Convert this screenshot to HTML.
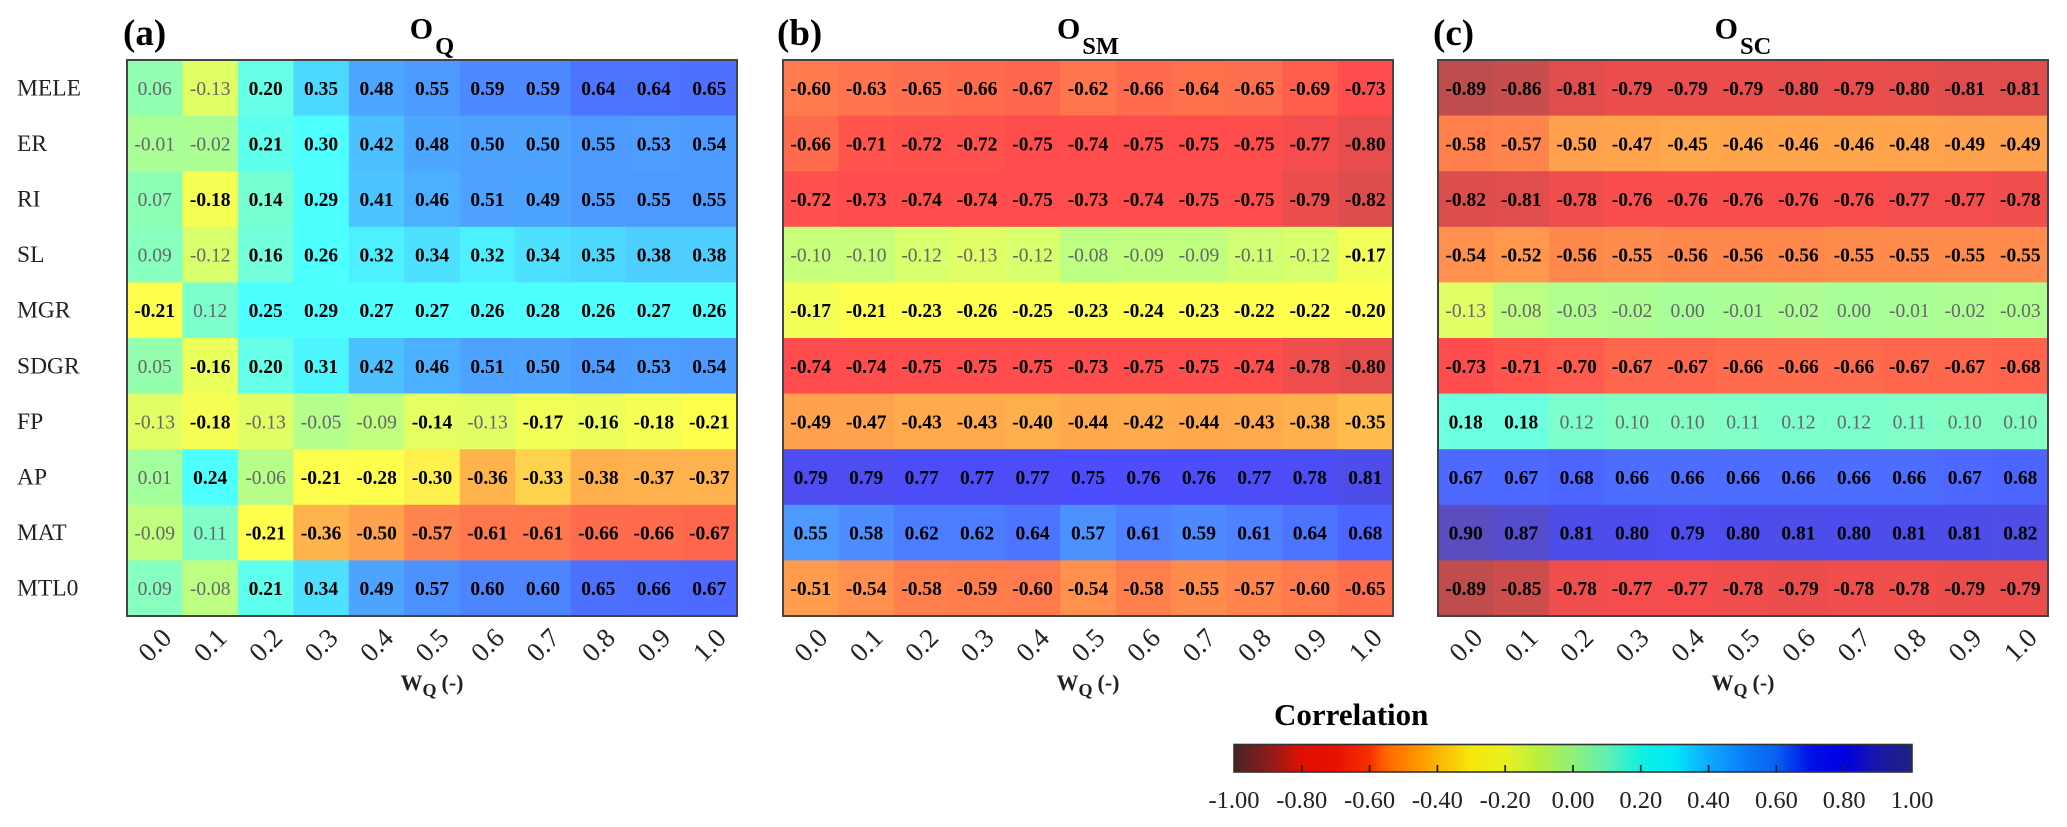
<!DOCTYPE html>
<html lang="en">
<head>
<meta charset="utf-8">
<title>Correlation heatmaps</title>
<style>
html,body{margin:0;padding:0;background:#fff;width:2067px;height:827px;overflow:hidden}
svg{display:block;font-family:"Liberation Serif",serif}
</style>
</head>
<body>
<svg id="chart" xmlns="http://www.w3.org/2000/svg" width="2067" height="827" viewBox="0 0 2067 827">
<defs>
<linearGradient id="cbar-gradient">
<stop offset="0" stop-color="#4a2424"/>
<stop offset="0.05" stop-color="#8a1c1c"/>
<stop offset="0.1" stop-color="#e01000"/>
<stop offset="0.15" stop-color="#e81000"/>
<stop offset="0.2" stop-color="#f53000"/>
<stop offset="0.225" stop-color="#ff6600"/>
<stop offset="0.275" stop-color="#ff9a00"/>
<stop offset="0.35" stop-color="#f5e80a"/>
<stop offset="0.4" stop-color="#e8f020"/>
<stop offset="0.45" stop-color="#b8f040"/>
<stop offset="0.5" stop-color="#90f07a"/>
<stop offset="0.55" stop-color="#60f0b0"/>
<stop offset="0.6" stop-color="#10f0e0"/>
<stop offset="0.65" stop-color="#00e8f8"/>
<stop offset="0.7" stop-color="#10a8ff"/>
<stop offset="0.75" stop-color="#0a80f8"/>
<stop offset="0.8" stop-color="#0860f0"/>
<stop offset="0.85" stop-color="#0010e8"/>
<stop offset="0.9" stop-color="#0000e0"/>
<stop offset="0.95" stop-color="#1818a8"/>
<stop offset="1" stop-color="#202080"/>
</linearGradient>
</defs>
</svg>
<script>
const rowLabels = ['MELE','ER','RI','SL','MGR','SDGR','FP','AP','MAT','MTL0'];
const colLabels = ['0.0','0.1','0.2','0.3','0.4','0.5','0.6','0.7','0.8','0.9','1.0'];
const valuesQ = [
 [0.06,-0.13,0.20,0.35,0.48,0.55,0.59,0.59,0.64,0.64,0.65],
 [-0.01,-0.02,0.21,0.30,0.42,0.48,0.50,0.50,0.55,0.53,0.54],
 [0.07,-0.18,0.14,0.29,0.41,0.46,0.51,0.49,0.55,0.55,0.55],
 [0.09,-0.12,0.16,0.26,0.32,0.34,0.32,0.34,0.35,0.38,0.38],
 [-0.21,0.12,0.25,0.29,0.27,0.27,0.26,0.28,0.26,0.27,0.26],
 [0.05,-0.16,0.20,0.31,0.42,0.46,0.51,0.50,0.54,0.53,0.54],
 [-0.13,-0.18,-0.13,-0.05,-0.09,-0.14,-0.13,-0.17,-0.16,-0.18,-0.21],
 [0.01,0.24,-0.06,-0.21,-0.28,-0.30,-0.36,-0.33,-0.38,-0.37,-0.37],
 [-0.09,0.11,-0.21,-0.36,-0.50,-0.57,-0.61,-0.61,-0.66,-0.66,-0.67],
 [0.09,-0.08,0.21,0.34,0.49,0.57,0.60,0.60,0.65,0.66,0.67]
];
const valuesSM = [
 [-0.60,-0.63,-0.65,-0.66,-0.67,-0.62,-0.66,-0.64,-0.65,-0.69,-0.73],
 [-0.66,-0.71,-0.72,-0.72,-0.75,-0.74,-0.75,-0.75,-0.75,-0.77,-0.80],
 [-0.72,-0.73,-0.74,-0.74,-0.75,-0.73,-0.74,-0.75,-0.75,-0.79,-0.82],
 [-0.10,-0.10,-0.12,-0.13,-0.12,-0.08,-0.09,-0.09,-0.11,-0.12,-0.17],
 [-0.17,-0.21,-0.23,-0.26,-0.25,-0.23,-0.24,-0.23,-0.22,-0.22,-0.20],
 [-0.74,-0.74,-0.75,-0.75,-0.75,-0.73,-0.75,-0.75,-0.74,-0.78,-0.80],
 [-0.49,-0.47,-0.43,-0.43,-0.40,-0.44,-0.42,-0.44,-0.43,-0.38,-0.35],
 [0.79,0.79,0.77,0.77,0.77,0.75,0.76,0.76,0.77,0.78,0.81],
 [0.55,0.58,0.62,0.62,0.64,0.57,0.61,0.59,0.61,0.64,0.68],
 [-0.51,-0.54,-0.58,-0.59,-0.60,-0.54,-0.58,-0.55,-0.57,-0.60,-0.65]
];
const valuesSC = [
 [-0.89,-0.86,-0.81,-0.79,-0.79,-0.79,-0.80,-0.79,-0.80,-0.81,-0.81],
 [-0.58,-0.57,-0.50,-0.47,-0.45,-0.46,-0.46,-0.46,-0.48,-0.49,-0.49],
 [-0.82,-0.81,-0.78,-0.76,-0.76,-0.76,-0.76,-0.76,-0.77,-0.77,-0.78],
 [-0.54,-0.52,-0.56,-0.55,-0.56,-0.56,-0.56,-0.55,-0.55,-0.55,-0.55],
 [-0.13,-0.08,-0.03,-0.02,0.00,-0.01,-0.02,0.00,-0.01,-0.02,-0.03],
 [-0.73,-0.71,-0.70,-0.67,-0.67,-0.66,-0.66,-0.66,-0.67,-0.67,-0.68],
 [0.18,0.18,0.12,0.10,0.10,0.11,0.12,0.12,0.11,0.10,0.10],
 [0.67,0.67,0.68,0.66,0.66,0.66,0.66,0.66,0.66,0.67,0.68],
 [0.90,0.87,0.81,0.80,0.79,0.80,0.81,0.80,0.81,0.81,0.82],
 [-0.89,-0.85,-0.78,-0.77,-0.77,-0.78,-0.79,-0.78,-0.78,-0.79,-0.79]
];
const colorbarTicks = [-1,-0.8,-0.6,-0.4,-0.2,0,0.2,0.4,0.6,0.8,1];

const NS = 'http://www.w3.org/2000/svg';
const svg = document.getElementById('chart');
const TOP = 60, BOTTOM = 616, PANEL_W = 610;
const rowH = (BOTTOM - TOP) / rowLabels.length;
const colW = PANEL_W / colLabels.length;
const yScale = i => TOP + i * rowH;
const xScale = (left, j) => left + j * colW;
const cbarX = v => 1234 + (v + 1) / 2 * 678;

function mk(tag, attrs, text, parent) {
  const el = document.createElementNS(NS, tag);
  for (const k in attrs) el.setAttribute(k, attrs[k]);
  if (text !== undefined && text !== null) el.textContent = text;
  (parent || svg).appendChild(el);
  return el;
}

function jet(v) {
  const stops = [[-1,130,0,0],[-0.89,165,0,0],[-0.86,177,0,0],[-0.8,220,0,0],[-0.75,255,0,0],[-0.73,255,0,0],[-0.66,255,44,0],[-0.58,255,73,0],[-0.5,255,120,0],[-0.36,255,146,0],[-0.3,255,235,0],[-0.28,255,255,0],[-0.2,255,255,0],[-0.13,211,255,36],[-0.09,165,255,74],[0,130,255,110],[0.06,97,255,142],[0.11,74,255,177],[0.2,36,255,220],[0.24,0,255,255],[0.3,0,255,255],[0.35,0,200,255],[0.42,0,165,255],[0.48,0,128,255],[0.55,0,110,255],[0.65,0,51,255],[0.75,0,0,255],[0.81,0,0,225],[0.9,19,0,165],[1,40,0,128]];
  v = Math.max(-1, Math.min(1, v));
  for (let i = 0; i < stops.length - 1; i++) {
    const a = stops[i], b = stops[i + 1];
    if (v <= b[0]) {
      const t = (v - a[0]) / (b[0] - a[0]);
      const c = [1,2,3].map(k => Math.round((a[k] + (b[k] - a[k]) * t) * 0.7 + 255 * 0.3));
      return 'rgb(' + c.join(',') + ')';
    }
  }
  return '#000';
}

function drawSubTitle(parent, cx, y, main, sub, mainSize, subSize, dy, name) {
  const t = mk('text', {x: cx, y: y, 'text-anchor': 'middle', 'font-weight': 'bold', 'font-size': mainSize, fill: '#000'}, null, parent);
  
  
  mk('tspan', {}, main, t);
  mk('tspan', {dy: dy, dx: 2, 'font-size': subSize}, sub, t);
  return t;
}

function drawPanel(left, values, letter, letterX, sub, key) {
  const g = mk('g', {});
  
  

  values.forEach((row, i) => {
    row.forEach((v, j) => {
      const x = xScale(left, j), y = yScale(i);
      const cell = mk('rect', {x: x, y: y, width: colW + 0.4, height: rowH + 0.4, fill: jet(v)}, null, g);
      
      
      const strong = Math.abs(v) >= 0.14;
      const label = mk('text', {
        x: x + colW / 2, y: y + rowH / 2 + 7, 'text-anchor': 'middle', 'font-size': 19.5,
        'font-weight': strong ? 'bold' : 'normal', fill: strong ? '#000' : '#666'
      }, v.toFixed(2), g);
      
      
    });
  });

  const frame = mk('rect', {x: left, y: TOP, width: PANEL_W, height: BOTTOM - TOP, fill: 'none', stroke: '#444', 'stroke-width': 2}, null, g);
  
  

  colLabels.forEach((c, j) => {
    const cx = xScale(left, j) + colW / 2, cy = 645;
    const tick = mk('text', {
      x: cx, y: cy + 9, 'text-anchor': 'middle', 'font-size': 27, fill: '#222',
      transform: 'rotate(-45 ' + cx + ' ' + cy + ')'
    }, c, g);
    
    
  });

  const panelLetter = mk('text', {x: letterX, y: 45, 'font-size': 37, 'font-weight': 'bold', fill: '#000'}, letter, g);
  
  

  drawSubTitle(g, left + PANEL_W / 2, 38.5, 'O', sub, 30, 24.5, 15.5, 'panel-title');

  const xt = mk('text', {x: left + PANEL_W / 2, y: 690, 'text-anchor': 'middle', 'font-weight': 'bold', 'font-size': 22, fill: '#222'}, null, g);
  
  
  mk('tspan', {}, 'W', xt);
  mk('tspan', {dy: 6, 'font-size': 18}, 'Q', xt);
  mk('tspan', {dy: -6, dx: 5, 'font-size': 22}, '(-)', xt);
}

rowLabels.forEach((r, i) => {
  const t = mk('text', {x: 17, y: yScale(i) + rowH / 2 + 7.5, 'font-size': 23.5, fill: '#222'}, r);
  
  
});

drawPanel(127, valuesQ, '(a)', 123, 'Q', 'oq');
drawPanel(783, valuesSM, '(b)', 777, 'SM', 'osm');
drawPanel(1438, valuesSC, '(c)', 1433, 'SC', 'osc');

const cbar = mk('g', {});



const cbarTitle = mk('text', {x: 1274, y: 725, 'font-size': 31, 'font-weight': 'bold', fill: '#000'}, 'Correlation', cbar);



const cbarRect = mk('rect', {x: cbarX(-1), y: 744.5, width: cbarX(1) - cbarX(-1), height: 27.5, fill: 'url(#cbar-gradient)', stroke: '#333', 'stroke-width': 1.6}, null, cbar);



colorbarTicks.forEach(v => {
  const x = cbarX(v);
  if (v > -1 && v < 1) {
    const tick = mk('line', {x1: x, x2: x, y1: 765, y2: 772, stroke: '#222', 'stroke-width': 1.8}, null, cbar);
    
    
  }
  const label = mk('text', {x: x, y: 808, 'text-anchor': 'middle', 'font-size': 24.5, fill: '#222'}, v.toFixed(2), cbar);
  
  
});
</script>
</body>
</html>
